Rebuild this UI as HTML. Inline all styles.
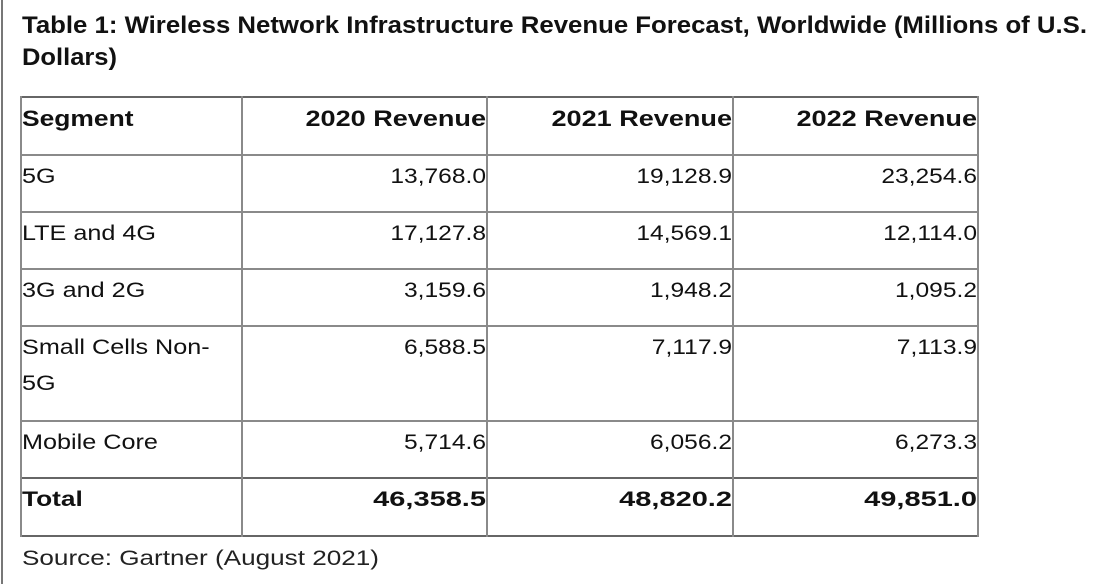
<!DOCTYPE html>
<html><head><meta charset="utf-8"><style>
html,body{margin:0;padding:0;background:#fff;width:1100px;height:584px;overflow:hidden}
svg{display:block;font-family:"Liberation Sans",sans-serif}
</style></head><body>
<svg width="1100" height="584" viewBox="0 0 1100 584">
<rect x="0" y="0" width="1100" height="584" fill="#fff"/>
<line x1="2" y1="0" x2="2" y2="584" stroke="#777" stroke-width="2"/>
<text x="22" y="33" font-size="24" font-weight="bold" fill="#111" textLength="1065" lengthAdjust="spacingAndGlyphs">Table 1: Wireless Network Infrastructure Revenue Forecast, Worldwide (Millions of U.S.</text>
<text x="22" y="65" font-size="24" font-weight="bold" fill="#111" textLength="95" lengthAdjust="spacingAndGlyphs">Dollars)</text>
<g id="grid" stroke="#8a8a8a" stroke-width="2"></g>
<g id="cells" fill="#111"></g>
<text x="22" y="565" font-size="21" fill="#222" textLength="357" lengthAdjust="spacingAndGlyphs">Source: Gartner (August 2021)</text>
</svg>
<script>
const headers=["Segment","2020 Revenue","2021 Revenue","2022 Revenue"];
const rowLabels=["5G","LTE and 4G","3G and 2G","Small Cells Non-\n5G","Mobile Core","Total"];
const rev2020=["13,768.0","17,127.8","3,159.6","6,588.5","5,714.6","46,358.5"];
const rev2021=["19,128.9","14,569.1","1,948.2","7,117.9","6,056.2","48,820.2"];
const rev2022=["23,254.6","12,114.0","1,095.2","7,113.9","6,273.3","49,851.0"];
const NS="http://www.w3.org/2000/svg";
const colX=[21,242,487,733,978];
const rowY=[97,155,212,269,326,421,478,536];
const grid=document.getElementById('grid');
const cells=document.getElementById('cells');
function line(x1,y1,x2,y2,nm,dark){const l=document.createElementNS(NS,'line');l.setAttribute('x1',x1);l.setAttribute('y1',y1);l.setAttribute('x2',x2);l.setAttribute('y2',y2);if(dark)l.setAttribute('stroke','#666');


grid.appendChild(l);}
rowY.forEach((y,i)=>line(20,y,979,y,'row-border',i==0||i==rowY.length-1||i==6));
colX.forEach(x=>line(x,96,x,537,'column-border'));
function txt(s,x,y,anchor,bold,size,nm,k){const t=document.createElementNS(NS,'text');t.setAttribute('x',x);t.setAttribute('y',y);t.setAttribute('text-anchor',anchor);t.setAttribute('font-size',size);if(bold)t.setAttribute('font-weight','bold');t.textContent=s;


cells.appendChild(t);
const w=t.getComputedTextLength();
if(w>0){t.setAttribute('textLength',(w*k).toFixed(1));t.setAttribute('lengthAdjust','spacingAndGlyphs');}
return t;}
headers.forEach((h,i)=>{if(i==0)txt(h,22,126,'start',true,22,'header-segment',1.2);else txt(h,colX[i+1]-1,126,'end',true,22,'header-revenue',1.23);});
const cols=[rev2020,rev2021,rev2022];
rowLabels.forEach((lab,r)=>{const base=rowY[r+1]+28;const bold=r==rowLabels.length-1;
lab.split("\n").forEach((part,k)=>txt(part,22,base+k*36,'start',bold,21,'row-label',bold?1.25:1.2));
cols.forEach((c,ci)=>txt(c[r],colX[ci+2]-1,base,'end',bold,21,'revenue-value',bold?1.38:1.17));});
</script>
</body></html>
